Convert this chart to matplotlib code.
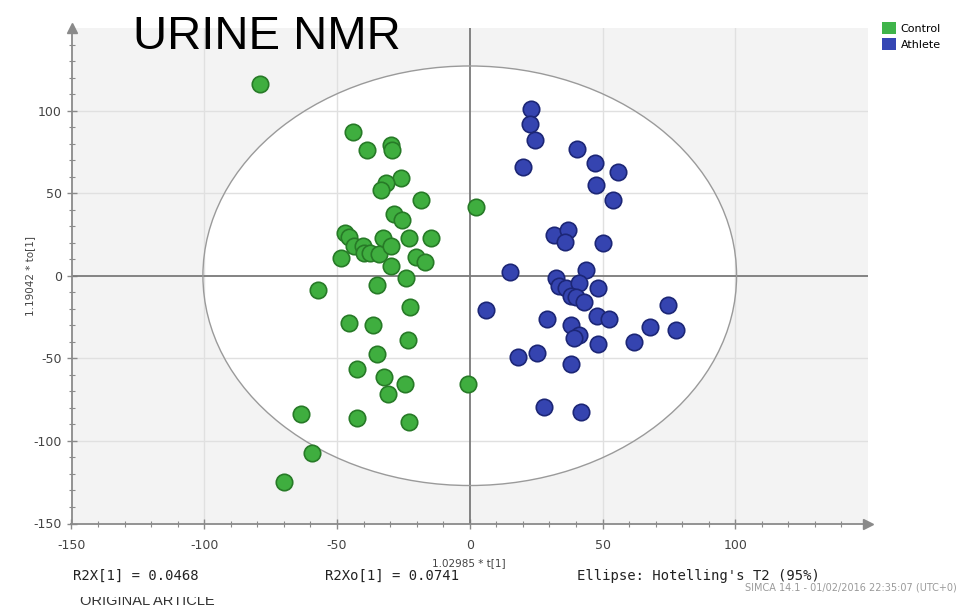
import numpy as np
import matplotlib.pyplot as plt
from matplotlib.patches import Ellipse, Patch
from matplotlib.transforms import Bbox, TransformedBbox

plt.rcParams['axes.unicode_minus'] = False

# OPLS-DA scores, urine NMR
control_t = [-79, -44, -38.6, -29.5, -29.1, -25.8, -31.7, -33.6, -18.2, 2.3,
             -28.6, -25.7, -46.8, -45.5, -43.7, -40.1, -39.9, -37.4, -34.2, -32.6,
             -29.8, -22.9, -14.7, -48.4, -29.8, -20.4, -16.9, -23.9, -34.8, -57.2,
             -22.5, -45.3, -36.3, -23.3, -34.8, -42.4, -32.3, -24.5, -30.8, -0.5,
             -63.4, -42.4, -22.9, -59.6, -70.1]
control_to = [116, 87, 76, 79.4, 76, 59, 56, 52, 46, 41.4,
              37.6, 34, 26, 23.2, 17.8, 17.8, 13.7, 13.7, 13.1, 22.8,
              18.2, 22.8, 22.8, 10.7, 6.1, 11.1, 8.1, -1.4, -5.5, -8.5,
              -19, -28.7, -29.7, -38.8, -47.3, -56.4, -61.6, -65.6, -71.7, -65.6,
              -83.8, -86.3, -88.7, -107.5, -124.7]

athlete_t = [23, 22.8, 24.5, 20.1, 40.4, 47.3, 55.7, 47.5, 53.8, 31.6,
             37.1, 35.8, 50.1, 15.2, 32.5, 43.8, 33.7, 36.2, 41.2, 48.2,
             38.1, 40, 43.1, 6.2, 29.1, 47.9, 52.6, 74.8, 68, 77.7,
             38.1, 41.2, 39.4, 48.2, 61.7, 18, 25.5, 38.1, 28.1, 41.9]
athlete_to = [101, 92, 82, 65.6, 77, 68.3, 62.8, 55.2, 46.1, 24.4,
              27.9, 20.4, 19.8, 2.2, -1.4, 3.4, -6.5, -7.5, -4.4, -7.5,
              -12.5, -13.1, -15.6, -20.6, -26.1, -24.2, -26.1, -17.6, -31.3, -32.7,
              -29.7, -35.8, -37.8, -41.4, -40.2, -48.9, -46.5, -53.5, -79.2, -82.6]

# Hotelling's T2 (95%) limits
t2_t = 100.5
t2_to = 127

ticks = [-150, -100, -50, 0, 50, 100]

fig = plt.figure(figsize=(9.61, 6.06), dpi=100)
ax = fig.add_axes([71.5/961, 1-523.5/606, (868-71.5)/961, (523.5-28)/606])
ax.set_facecolor('#f3f3f3')
ax.set_xlim(-150, 150)
ax.set_ylim(-150, 150)

ax.add_patch(Ellipse((0, 0), 2*t2_t, 2*t2_to, facecolor='white',
                     edgecolor='none', zorder=1))
for v in [-100, -50, 50, 100]:
    ax.axvline(v, color='#e0e0e0', lw=1, zorder=1.5)
    ax.axhline(v, color='#e0e0e0', lw=1, zorder=1.5)
ax.axvline(0, color='#7a7a7a', lw=1.3, zorder=1.6)
ax.axhline(0, color='#7a7a7a', lw=1.3, zorder=1.6)
ax.add_patch(Ellipse((0, 0), 2*t2_t, 2*t2_to, facecolor='none',
                     edgecolor='#9a9a9a', lw=1, zorder=1.7))

ax.scatter(control_t, control_to, s=140, c='#3fae3f', edgecolors='#277a27',
           linewidths=1.2, zorder=3)
ax.scatter(athlete_t, athlete_to, s=140, c='#3544b0', edgecolors='#1c2676',
           linewidths=1.2, zorder=3)

# axes with arrow heads
for s in ['top', 'right']:
    ax.spines[s].set_visible(False)
for s in ['left', 'bottom']:
    ax.spines[s].set_color('#8a8a8a')
    ax.spines[s].set_linewidth(1.3)
ax.plot(0, 1, '^', color='#8a8a8a', ms=7, transform=ax.transAxes, clip_on=False)
ax.plot(1, 0, '>', color='#8a8a8a', ms=7, transform=ax.transAxes, clip_on=False)

ax.set_xticks(ticks)
ax.set_yticks(ticks)
ax.set_xticks(np.arange(-150, 150, 10), minor=True)
ax.set_yticks(np.arange(-150, 150, 10), minor=True)
ax.tick_params(which='major', direction='inout', length=7, width=1,
               color='#8a8a8a', labelcolor='#444444', labelsize=9)
ax.tick_params(which='minor', direction='inout', length=4, width=0.8,
               color='#8a8a8a')
ax.tick_params(axis='x', pad=8)

fig.text(30/961, 1-276/606, '1.19042 * to[1]', rotation=90, fontsize=7.5,
         color='#444444', ha='center', va='center')
fig.text(469/961, 1-563/606, '1.02985 * t[1]', fontsize=7.5,
         color='#444444', ha='center', va='center')

fig.text(133/961, 1-37/606, 'URINE NMR', fontsize=34, family='Liberation Sans',
         va='center', ha='left', color='black')

mono = dict(family='DejaVu Sans Mono', fontsize=10, color='#222222', va='center')
fig.text(73/961, 1-576/606, 'R2X[1] = 0.0468', **mono)
fig.text(325/961, 1-576/606, 'R2Xo[1] = 0.0741', **mono)
fig.text(577/961, 1-576/606, "Ellipse: Hotelling's T2 (95%)", **mono)
fig.text(745/961, 1-587/606, 'SIMCA 14.1 - 01/02/2016 22:35:07 (UTC+0)',
         fontsize=7, color='#9a9a9a', va='center')

# running header, cut off along its top edge
header = fig.text(80/961, 1-605/606, 'ORIGINAL ARTICLE', fontsize=10.5,
                  color='#333333', family='Liberation Sans', va='baseline')
header.set_clip_box(TransformedBbox(Bbox([[0, 0], [1, 1-597/606]]), fig.transFigure))
header.set_clip_on(True)

handles = [Patch(facecolor='#3fb44a', edgecolor='none', label='Control'),
           Patch(facecolor='#3546b4', edgecolor='none', label='Athlete')]
fig.legend(handles=handles, loc='upper left', bbox_to_anchor=(874/961, 1-14/606),
           frameon=False, fontsize=8, handlelength=1.3, handleheight=1.3,
           handletextpad=0.4, labelspacing=0.4, borderpad=0.2)

fig.savefig('out.png', dpi=100)
